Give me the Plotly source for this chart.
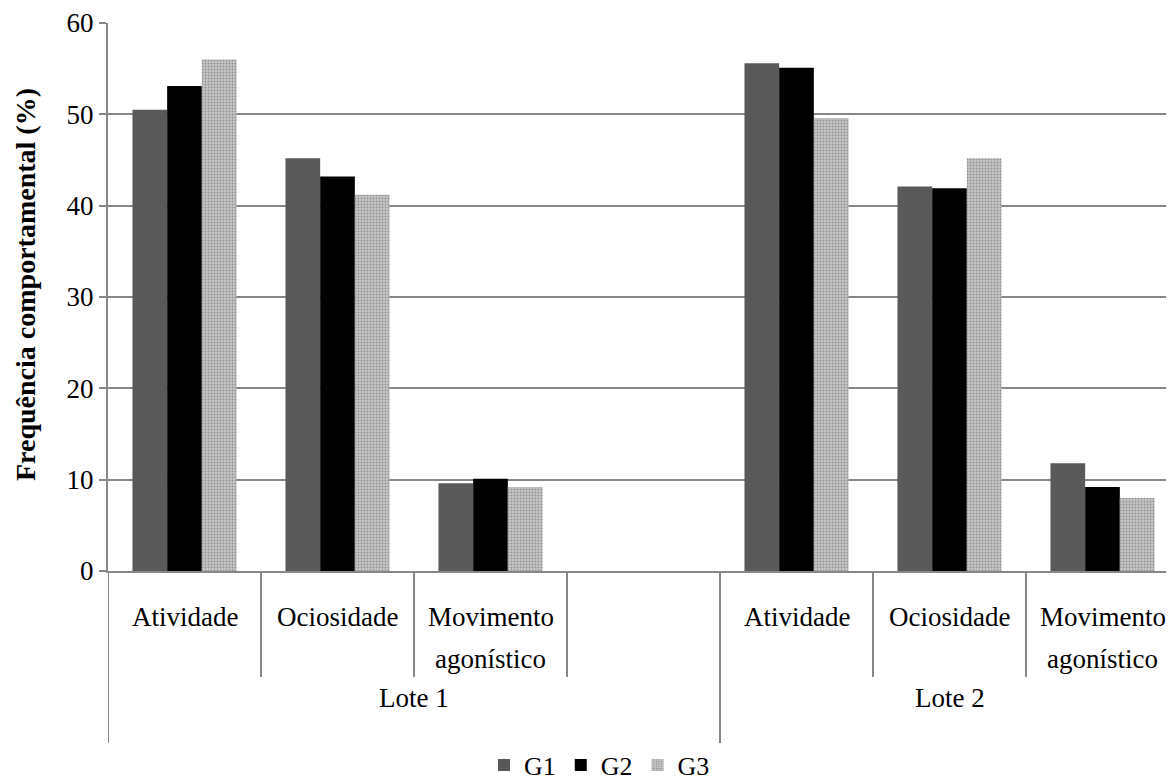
import plotly.graph_objects as go

# ---- data ----
groups = ["Lote 1", "Lote 1", "Lote 1", "Lote 1", "Lote 2", "Lote 2", "Lote 2"]
categories = ["Atividade", "Ociosidade", "Movimento<br>agonístico", "",
              "Atividade", "Ociosidade", "Movimento<br>agonístico"]
g1 = [50.5, 45.2, 9.6, None, 55.6, 42.1, 11.8]
g2 = [53.1, 43.2, 10.1, None, 55.1, 41.9, 9.2]
g3 = [56.0, 41.2, 9.2, None, 49.6, 45.2, 8.0]
series_names = ["G1", "G2", "G3"]
y_ticks = [0, 10, 20, 30, 40, 50, 60]
y_title = "Frequência comportamental (%)"

FONT = "Liberation Serif, Times New Roman, serif"
GRID = "#878787"
xpos = list(range(len(categories)))

fig = go.Figure()
fig.add_trace(go.Bar(x=xpos, y=g1, name=series_names[0],
                     marker=dict(color="#595959", line=dict(width=0))))
fig.add_trace(go.Bar(x=xpos, y=g2, name=series_names[1],
                     marker=dict(color="#000000", line=dict(width=0))))
fig.add_trace(go.Bar(x=xpos, y=g3, name=series_names[2],
                     marker=dict(color="#a9a9a9", line=dict(width=0),
                                 pattern=dict(shape=".", fgcolor="#5e5e5e",
                                              bgcolor="#c6c6c6", size=3,
                                              solidity=0.35))))

# category labels (each line placed separately for wider line spacing)
annotations = []
shapes = []
for i, c in enumerate(categories):
    if c:
        for k, line in enumerate(c.split("<br>")):
            annotations.append(dict(x=i, y=0, xref="x", yref="paper", text=line,
                                    showarrow=False, yanchor="middle",
                                    yshift=-46 - 42 * k,
                                    font=dict(family=FONT, size=27, color="black")))
# group labels
seen = []
for g in groups:
    if g not in seen:
        seen.append(g)
for g in seen:
    idx = [i for i, gg in enumerate(groups) if gg == g]
    annotations.append(dict(x=sum(idx) / len(idx), y=0, xref="x", yref="paper",
                            text=g, showarrow=False, yanchor="middle", yshift=-127,
                            font=dict(family=FONT, size=27, color="black")))

TOP, BOTTOM, LEFT = 15, 220, 100
plot_h = 783 - TOP - BOTTOM
plot_w = 1174 - LEFT
short_len = 106 / plot_h
long_len = 172 / plot_h
for i in range(len(categories) + 1):
    b = i - 0.5
    is_long = (i == 0 or i == len(categories) or groups[i] != groups[i - 1])
    shapes.append(dict(type="line", xref="x", yref="paper", x0=b, x1=b, y0=0,
                       y1=-(long_len if is_long else short_len),
                       line=dict(color=GRID, width=2)))

annotations.append(dict(x=0, y=0.5, xref="paper", yref="paper", text="<b>" + y_title + "</b>",
                        textangle=-90, showarrow=False, xshift=-83, yshift=12,
                        xanchor="center", yanchor="middle",
                        font=dict(family=FONT, size=28, color="black")))

fig.update_layout(
    width=1174, height=783,
    margin=dict(l=LEFT, r=0, t=TOP, b=BOTTOM),
    paper_bgcolor="white", plot_bgcolor="white",
    barmode="group", bargap=0.32, bargroupgap=0,
    showlegend=True,
    legend=dict(orientation="h", x=376 / plot_w, xanchor="left", y=-194 / plot_h,
                yanchor="middle", font=dict(family=FONT, size=26, color="black"),
                itemwidth=30, tracegroupgap=0),
    annotations=annotations, shapes=shapes,
    xaxis=dict(range=[-0.5, -0.5 + plot_w / 153], showticklabels=False, showgrid=False,
               zeroline=False, showline=True, linecolor=GRID, linewidth=2,
               ticks=""),
    yaxis=dict(range=[0, 60], tickvals=y_ticks, showgrid=True, gridcolor=GRID,
               gridwidth=2, zeroline=False, showline=True, linecolor=GRID,
               linewidth=2, ticks="outside", ticklen=7, tickcolor=GRID, tickwidth=2,
               tickfont=dict(family=FONT, size=27, color="black")),
)

fig.write_html("out.html")
